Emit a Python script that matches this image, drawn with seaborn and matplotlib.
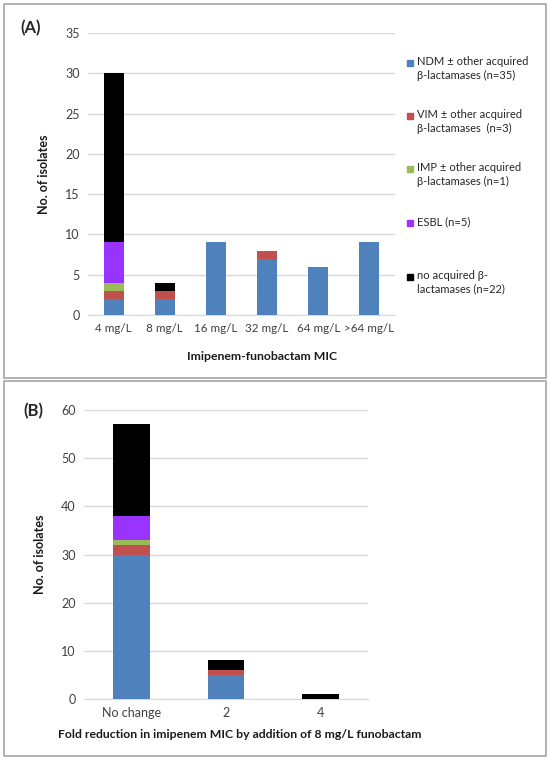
import numpy as np
import pandas as pd
import matplotlib
matplotlib.use("Agg")
import matplotlib.pyplot as plt
from matplotlib.patches import Rectangle
import seaborn as sns

# panel A data
mic = ['4 mg/L', '8 mg/L', '16 mg/L', '32 mg/L', '64 mg/L', '>64 mg/L']
ndm_a = [2, 2, 9, 7, 6, 9]
vim_a = [1, 1, 0, 1, 0, 0]
imp_a = [1, 0, 0, 0, 0, 0]
esbl_a = [5, 0, 0, 0, 0, 0]
none_a = [21, 1, 0, 0, 0, 0]

# panel B data
fold = ['No change', '2', '4']
ndm_b = [30, 5, 0]
vim_b = [2, 1, 0]
imp_b = [1, 0, 0]
esbl_b = [5, 0, 0]
none_b = [19, 2, 1]

labels = ['NDM \u00b1 other acquired\n\u03b2-lactamases (n=35)',
          'VIM \u00b1 other acquired\n\u03b2-lactamases  (n=3)',
          'IMP \u00b1 other acquired\n\u03b2-lactamases (n=1)',
          'ESBL (n=5)',
          'no acquired \u03b2-\nlactamases (n=22)']
colors = ['#4F81BD', '#C0504D', '#9BBB59', '#9933FF', '#000000']

sns.set_style("white")
plt.rcParams['font.family'] = ['Lato', 'DejaVu Sans']

W, H = 550, 759
fig = plt.figure(figsize=(5.5, 7.59), dpi=100)


def px(x0, y0, x1, y1):
    return [x0 / W, 1 - y1 / H, (x1 - x0) / W, (y1 - y0) / H]


def stacked(ax, cats, series, ymax, step, width, xsize):
    df = pd.DataFrame(dict(zip(range(len(series)), series)), index=cats)
    cum = df.cumsum(axis=1)
    # draw cumulative totals, tallest first, so each layer shows its own part
    for i in reversed(range(len(series))):
        d = pd.DataFrame({'cat': cats, 'val': cum[i].values})
        sns.barplot(data=d, x='cat', y='val', order=cats, color=colors[i],
                    width=width, saturation=1, linewidth=0, ax=ax, zorder=3)
    ax.set_ylim(0, ymax)
    ax.set_yticks(np.arange(0, ymax + 1, step))
    ax.grid(axis='y', color='#D9D9D9', lw=1, zorder=0)
    ax.set_axisbelow(True)
    for s in ['top', 'right', 'left']:
        ax.spines[s].set_visible(False)
    ax.spines['bottom'].set_color('#D9D9D9')
    ax.spines['bottom'].set_zorder(1)
    ax.tick_params(length=0, labelsize=9, colors='#404040', pad=6)
    ax.tick_params(axis='x', labelsize=xsize)
    ax.set_xlabel('')
    ax.set_ylabel('No. of isolates', fontsize=9, fontweight='bold', color='#1a1a1a', labelpad=11)


# panel frames
for box in [(4, 4, 546, 378), (4, 381, 546, 756)]:
    fig.patches.append(Rectangle((box[0] / W, 1 - box[3] / H), (box[2] - box[0]) / W,
                                 (box[3] - box[1]) / H, transform=fig.transFigure,
                                 fill=False, ec='#A6A6A6', lw=1.2))

axA = fig.add_axes(px(88, 33, 395, 315))
stacked(axA, mic, [ndm_a, vim_a, imp_a, esbl_a, none_a], 35, 5, 0.39, 8.4)
fig.text(262 / W, 1 - 356 / H, 'Imipenem-funobactam MIC', ha='center', va='center',
         fontsize=8.8, fontweight='bold', color='#1a1a1a')
fig.text(20 / W, 1 - 28 / H, '(A)', ha='left', va='center', fontsize=12, fontweight='bold')

axB = fig.add_axes(px(84, 410, 368, 699))
stacked(axB, fold, [ndm_b, vim_b, imp_b, esbl_b, none_b], 60, 10, 0.39, 9)
fig.text(240 / W, 1 - 735 / H, 'Fold reduction in imipenem MIC by addition of 8 mg/L funobactam',
         ha='center', va='center', fontsize=8.8, fontweight='bold', color='#1a1a1a')
fig.text(23 / W, 1 - 411 / H, '(B)', ha='left', va='center', fontsize=12, fontweight='bold')

# legend for panel A
ys = [63, 116, 169, 223, 277]
for c, lab, y in zip(colors, labels, ys):
    fig.patches.append(Rectangle((407 / W, 1 - (y + 3) / H), 6 / W, 6 / H,
                                 transform=fig.transFigure, color=c))
    fig.text(417 / W, 1 - (y - 7) / H, lab, ha='left', va='top', fontsize=8,
             color='#262626', linespacing=1.3)

fig.savefig('out.png', dpi=100)
